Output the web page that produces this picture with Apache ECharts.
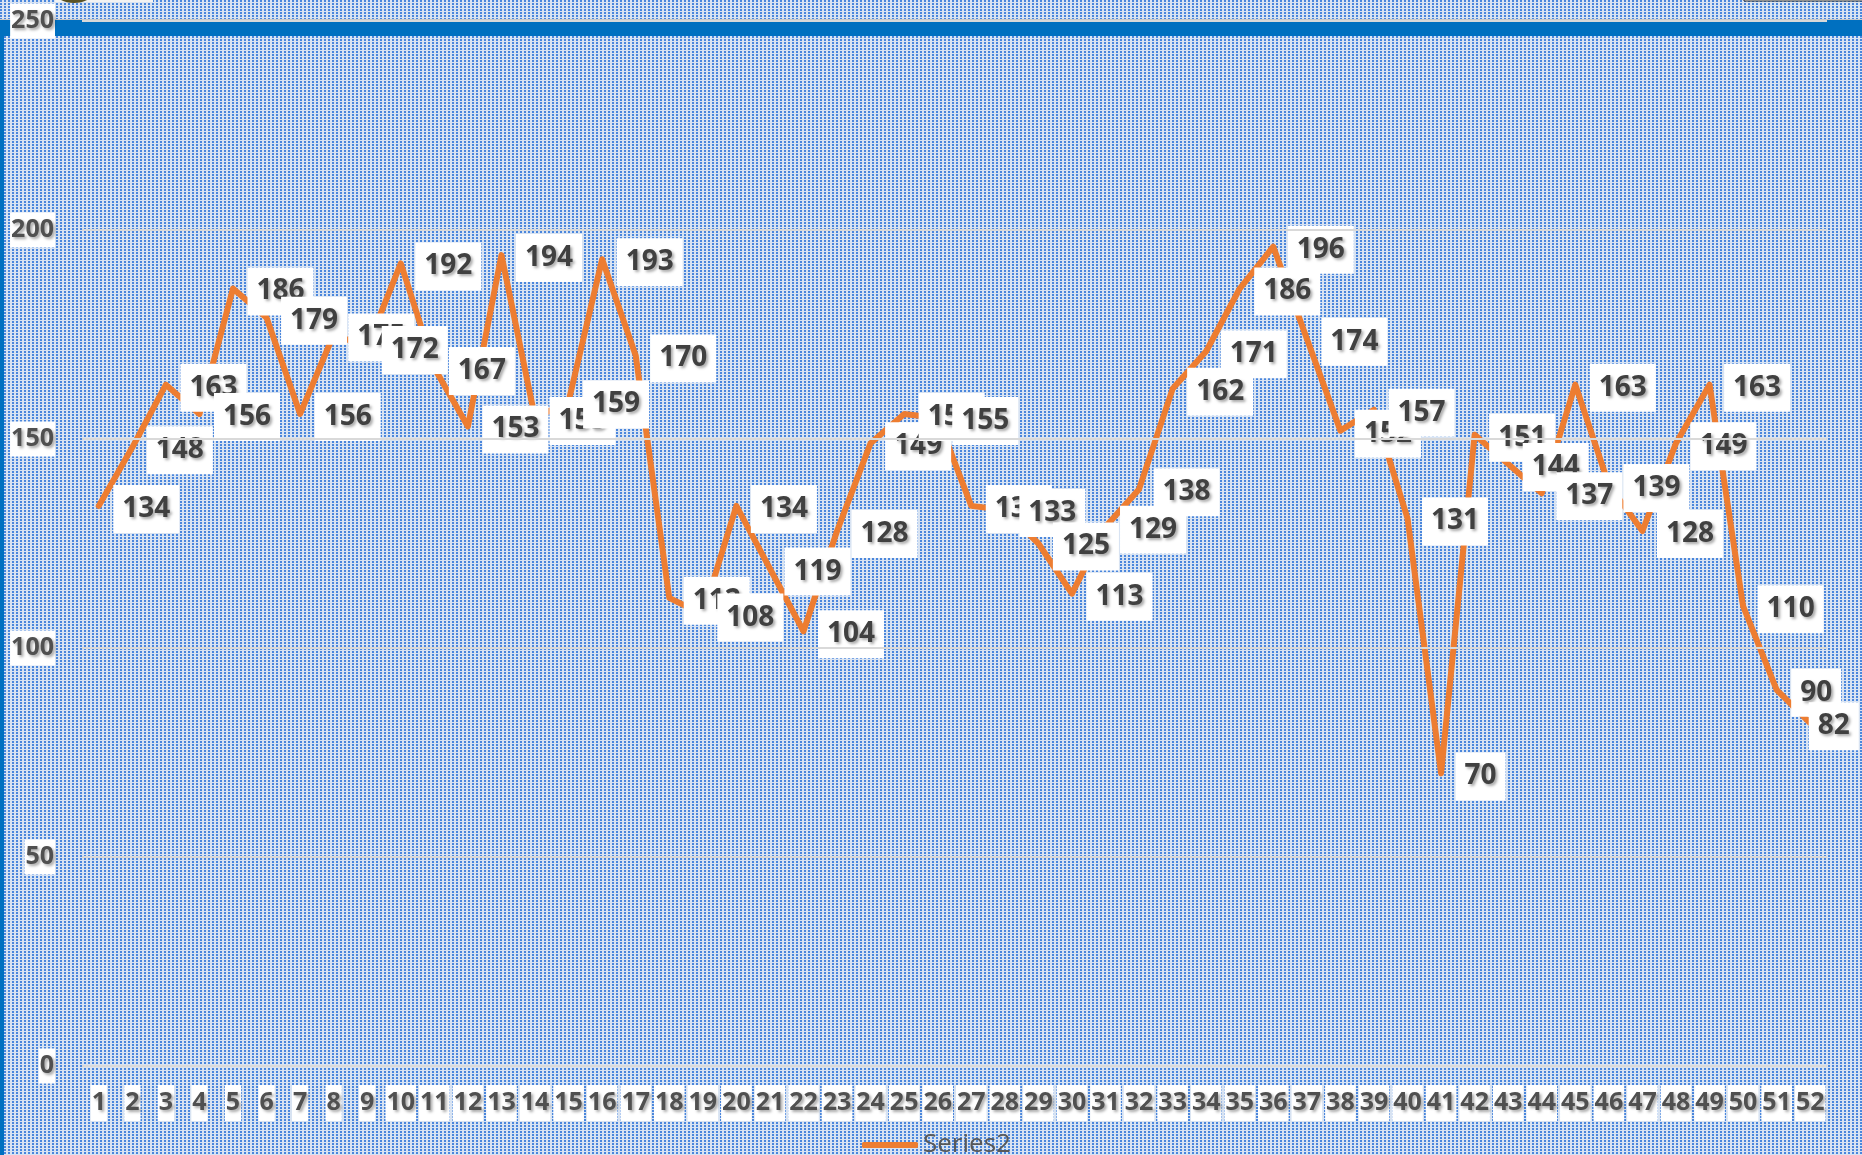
<!DOCTYPE html>
<html>
<head>
<meta charset="utf-8">
<script src="https://cdn.jsdelivr.net/npm/echarts@6/dist/echarts.min.js"></script>
<style>
  html, body { margin: 0; padding: 0; }
  #chart { width: 1862px; height: 1155px; }
</style>
</head>
<body>
<div id="chart"></div>
<script>
const weeks = ['1', '2', '3', '4', '5', '6', '7', '8', '9', '10', '11', '12', '13',
  '14', '15', '16', '17', '18', '19', '20', '21', '22', '23', '24', '25', '26',
  '27', '28', '29', '30', '31', '32', '33', '34', '35', '36', '37', '38', '39',
  '40', '41', '42', '43', '44', '45', '46', '47', '48', '49', '50', '51', '52']
const series2 = [134, 148, 163, 156, 186, 179, 156, 175, 172, 192, 167, 153, 194,
  155, 159, 193, 170, 112, 108, 134, 119, 104, 128, 149, 156, 155,
  134, 133, 125, 113, 129, 138, 162, 171, 186, 196, 174, 152, 157,
  131, 70, 151, 144, 137, 163, 139, 128, 149, 163, 110, 90, 82]
const yTicks = [0, 50, 100, 150, 200, 250]

// dotted fill like the excel pattern
const pat = document.createElement('canvas')
pat.width = 4
pat.height = 3
const pctx = pat.getContext('2d')
pctx.fillStyle = '#d8e3f2'
pctx.fillRect(0, 0, 4, 3)
pctx.fillStyle = '#4a86dc'
pctx.fillRect(0, 0, 2, 2)

const font = '"Open Sans", "Noto Sans", sans-serif'
const shadow = {
  textShadowColor: 'rgba(0,0,0,0.35)',
  textShadowBlur: 3,
  textShadowOffsetX: 2,
  textShadowOffsetY: 2
}

const mChart = echarts.init(document.getElementById('chart'))
const lastIdx = series2.length - 1

const options = {
  backgroundColor: { image: pat, repeat: 'repeat' },
  animation: false,
  grid: {
    left: 82,
    right: 35,
    top: 21,
    bottom: 89
  },
  legend: {
    data: ['Series2'],
    left: 857,
    top: 1127,
    icon: 'roundRect',
    itemWidth: 56,
    itemHeight: 6,
    textStyle: {
      fontFamily: font,
      fontSize: 26,
      color: '#595959'
    }
  },
  xAxis: {
    type: 'category',
    data: weeks,
    boundaryGap: true,
    axisLine: { show: false },
    axisTick: { show: false },
    axisLabel: {
      interval: 0,
      margin: 19,
      fontFamily: font,
      fontSize: 25,
      fontWeight: 'bold',
      color: '#505050',
      backgroundColor: '#fff',
      padding: [2, 1],
      lineHeight: 32,
      ...shadow
    }
  },
  yAxis: {
    type: 'value',
    min: yTicks[0],
    max: yTicks[yTicks.length - 1],
    interval: 50,
    z: 5,
    axisLine: { show: false },
    axisTick: { show: false },
    splitLine: {
      lineStyle: { color: '#d9d9d9', width: 2 }
    },
    axisLabel: {
      margin: 27,
      fontFamily: font,
      fontSize: 25,
      fontWeight: 'bold',
      color: '#505050',
      backgroundColor: '#fff',
      padding: [2, 1],
      lineHeight: 31,
      ...shadow
    }
  },
  graphic: [
    {
      type: 'rect',
      z: 1,
      shape: { x: 0, y: 19, width: 1862, height: 2 },
      style: { fill: '#c8c8c8' }
    },
    {
      type: 'rect',
      z: 1,
      shape: { x: 0, y: 20, width: 1862, height: 16 },
      style: { fill: '#0070c0' }
    },
    {
      type: 'rect',
      z: 1,
      shape: { x: 0, y: 20, width: 4, height: 1135 },
      style: { fill: '#0070c0' }
    },
    {
      type: 'rect',
      z: 1,
      shape: { x: 55, y: 0, width: 98, height: 2 },
      style: { fill: '#f2f2f2' }
    },
    {
      type: 'ellipse',
      z: 2,
      shape: { cx: 74, cy: -8, rx: 19, ry: 11 },
      style: { fill: '#5a5224' }
    },
    {
      type: 'rect',
      z: 1,
      shape: { x: 1744, y: -2, width: 130, height: 3 },
      style: { fill: '#fff', stroke: '#222', lineWidth: 1 }
    }
  ],
  series: [{
    name: 'Series2',
    type: 'line',
    data: series2,
    color: '#ed7d31',
    symbol: 'circle',
    symbolSize: 1,
    showSymbol: true,
    lineStyle: {
      width: 6,
      color: '#ed7d31',
      join: 'round',
      cap: 'round'
    },
    label: {
      show: true,
      position: 'right',
      distance: 14,
      fontFamily: font,
      fontSize: 28,
      fontWeight: 'bold',
      color: '#404040',
      backgroundColor: '#fff',
      padding: [8, 9],
      lineHeight: 32,
      ...shadow
    },
    // last label is pushed back inside the picture
    labelLayout: (params) => ({
      hideOverlap: false,
      dx: params.dataIndex === lastIdx ? -16 : 0,
      dy: 3
    })
  }]
}
mChart.setOption(options)
</script>
</body>
</html>
